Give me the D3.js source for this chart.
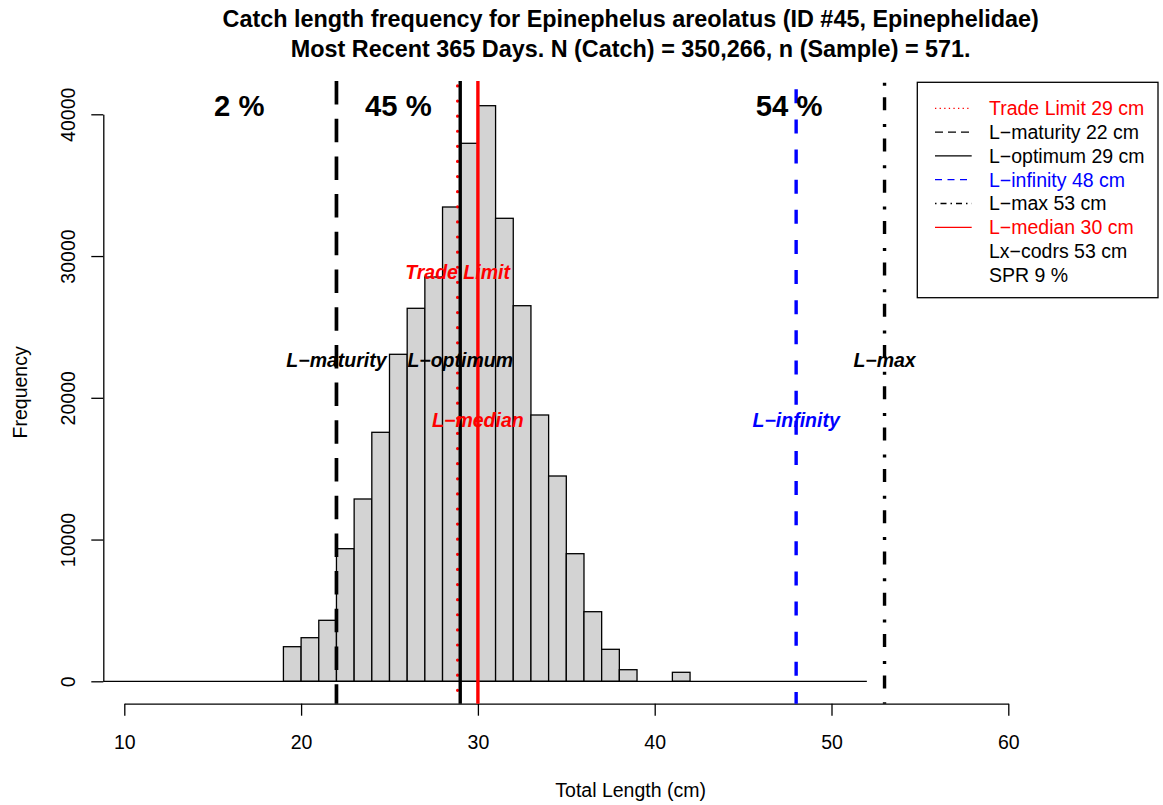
<!DOCTYPE html>
<html><head><meta charset="utf-8">
<script src="https://cdn.jsdelivr.net/npm/d3@7"></script>
<style>
body{margin:0;background:#fff}
svg{display:block}
text{font-family:"Liberation Sans",Arial,Helvetica,sans-serif}
</style>
</head><body>
<svg id="c" width="1163" height="805"></svg>
<script>
// ---------- data ----------
const binLeft = [19,20,21,22,23,24,25,26,27,28,29,30,31,32,33,34,35,36,37,38,39,40,41];
const freq    = [2441,3076,4303,9355,12861,17566,23069,26314,28522,33460,37954,40607,32663,26497,18787,14483,9002,4910,2257,818,0,0,635];
const binWidth = 1;
const binEnd = 52;
const xTicks = [10,20,30,40,50,60];
const yTicks = [0,10000,20000,30000,40000];
const refNames  = ["Trade Limit","L\u2212maturity","L\u2212optimum","L\u2212infinity","L\u2212max","L\u2212median"];
const refValues = [28.85,22,29,48,53,30];
const refLabelY = [28900,22650,22650,18400,22650,18400];
const legendLabels = ["Trade Limit 29 cm","L\u2212maturity 22 cm","L\u2212optimum 29 cm","L\u2212infinity 48 cm","L\u2212max 53 cm","L\u2212median 30 cm","Lx\u2212codrs 53 cm","SPR 9 %"];
const pctLabels = ["2 %","45 %","54 %"];
const pctX = [16.5,25.5,47.6];
const pctY = 40600;
const titleLines = ["Catch length frequency for Epinephelus areolatus (ID #45, Epinephelidae)",
                    "Most Recent 365 Days. N (Catch) = 350,266, n (Sample) = 571."];
const xLabel = "Total Length (cm)";
const yLabel = "Frequency";

// ---------- styles ----------
const refStyles = [
  {color:"#FF0000", w:3.2, dash:"0.01,15.1", off:10.2, cap:"round"},
  {color:"#000000", w:3.7, dash:"23.5,14.2", off:0, cap:"butt"},
  {color:"#000000", w:3.4, dash:null, off:0, cap:"butt"},
  {color:"#0000FF", w:3.4, dash:"14,16.13", off:21.8, cap:"butt"},
  {color:"#000000", w:3.4, dash:"3,11.5,13,13.8", off:39.6, cap:"butt"},
  {color:"#FF0000", w:3.4, dash:null, off:0, cap:"butt"}
];
const legendStyles = [
  {color:"#FF0000", dash:"1.3,3.3", text:"#FF0000"},
  {color:"#000000", dash:"8,5", text:"#000000"},
  {color:"#000000", dash:null, text:"#000000"},
  {color:"#0000FF", dash:"7,5.5", text:"#0000FF"},
  {color:"#000000", dash:"1.5,4,6,4", text:"#000000"},
  {color:"#FF0000", dash:null, text:"#FF0000"},
  {color:null, dash:null, text:"#000000"},
  {color:null, dash:null, text:"#000000"}
];
const FS = 19.5;
const plot = {left:103.3, right:1158, top:81, bottom:703.7};

const svg = d3.select("#c");
const x = d3.scaleLinear().domain([10,60]).range([124.3,1008.3]);
const y = d3.scaleLinear().domain([0,40000]).range([681.3,114.3]);

// ---------- title ----------
svg.selectAll("text.title").data(titleLines).join("text")
  .attr("class","title")
  .attr("x", (plot.left+plot.right)/2)
  .attr("y", (d,i)=> 27 + i*30)
  .attr("text-anchor","middle")
  .attr("font-weight","bold")
  .attr("font-size", FS*1.2)
  .text(d=>d);

// ---------- bars ----------
svg.append("g").selectAll("rect").data(binLeft).join("rect")
  .attr("x", d=>x(d))
  .attr("width", d=>x(d+binWidth)-x(d))
  .attr("y", (d,i)=>y(freq[i]))
  .attr("height", (d,i)=>y(0)-y(freq[i]))
  .attr("fill","#D3D3D3")
  .attr("stroke","#000")
  .attr("stroke-width",1.3);

// baseline of zero bins
svg.append("line")
  .attr("x1", plot.left).attr("x2", x(binEnd))
  .attr("y1", y(0)).attr("y2", y(0))
  .attr("stroke","#000").attr("stroke-width",1.3);

// ---------- axes ----------
const xAxis = svg.append("g").attr("transform",`translate(0,${plot.bottom})`)
  .call(d3.axisBottom(x).tickValues(xTicks).tickSize(12).tickPadding(19).tickSizeOuter(0));
xAxis.select(".domain").attr("stroke-width",1.3);
xAxis.selectAll(".tick line").attr("stroke-width",1.3);
xAxis.selectAll(".tick text").attr("font-size",FS).attr("font-family","Liberation Sans, Arial, sans-serif");

const yAxis = svg.append("g").attr("transform",`translate(${plot.left},0)`)
  .call(d3.axisLeft(y).tickValues(yTicks).tickSize(12).tickSizeOuter(0).tickFormat(d3.format("d")));
yAxis.select(".domain").attr("stroke-width",1.3);
yAxis.selectAll(".tick line").attr("stroke-width",1.3);
yAxis.selectAll(".tick text")
  .attr("font-size",FS).attr("font-family","Liberation Sans, Arial, sans-serif")
  .attr("text-anchor","middle").attr("dy",null).attr("x",null)
  .attr("transform","translate(-28,0) rotate(-90)");

svg.append("text").attr("x",(plot.left+plot.right)/2).attr("y",797)
  .attr("text-anchor","middle").attr("font-size",FS).text(xLabel);
svg.append("text").attr("transform",`translate(27,${(plot.top+plot.bottom)/2}) rotate(-90)`)
  .attr("text-anchor","middle").attr("font-size",FS).text(yLabel);

// ---------- reference lines ----------
svg.append("g").selectAll("line").data(refValues).join("line")
  .attr("x1", d=>x(d)).attr("x2", d=>x(d))
  .attr("y1", plot.top).attr("y2", plot.bottom)
  .attr("stroke",(d,i)=>refStyles[i].color)
  .attr("stroke-width",(d,i)=>refStyles[i].w)
  .attr("stroke-dasharray",(d,i)=>refStyles[i].dash)
  .attr("stroke-dashoffset",(d,i)=>refStyles[i].off)
  .attr("stroke-linecap",(d,i)=>refStyles[i].cap);

// labels for reference lines
svg.append("g").selectAll("text").data(refNames).join("text")
  .attr("x",(d,i)=>x(refValues[i]))
  .attr("y",(d,i)=>y(refLabelY[i]) + FS*0.358)
  .attr("text-anchor","middle")
  .attr("font-weight","bold").attr("font-style","italic")
  .attr("font-size",FS)
  .attr("fill",(d,i)=>refStyles[i].color)
  .text(d=>d);

// percent labels
svg.append("g").selectAll("text").data(pctLabels).join("text")
  .attr("x",(d,i)=>x(pctX[i]))
  .attr("y", y(pctY) + FS*1.5*0.358)
  .attr("text-anchor","middle")
  .attr("font-weight","bold")
  .attr("font-size",FS*1.5)
  .text(d=>d);

// ---------- legend ----------
const lg = svg.append("g");
lg.append("rect").attr("x",917.3).attr("y",82.3).attr("width",1158-917.3).attr("height",297.7-82.3)
  .attr("fill","#fff").attr("stroke","#000").attr("stroke-width",1.3);
const rows = lg.selectAll("g.row").data(legendLabels).join("g").attr("class","row")
  .attr("transform",(d,i)=>`translate(0,${108.3+i*23.8})`);
rows.filter((d,i)=>legendStyles[i].color).append("line")
  .attr("x1",935).attr("x2",971.7).attr("y1",0).attr("y2",0)
  .attr("stroke",function(d){return legendStyles[legendLabels.indexOf(d)].color;})
  .attr("stroke-width",1.3)
  .attr("stroke-dasharray",function(d){return legendStyles[legendLabels.indexOf(d)].dash;});
rows.append("text").attr("x",989).attr("y",FS*0.358)
  .attr("font-size",FS)
  .attr("fill",(d,i)=>legendStyles[i].text)
  .text(d=>d);
</script>
</body></html>
